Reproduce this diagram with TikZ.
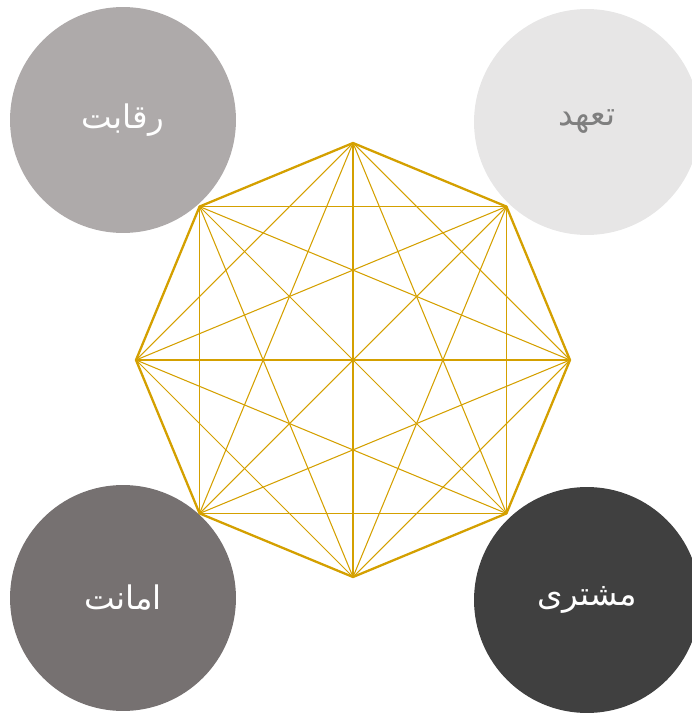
\documentclass[tikz,border=0pt]{standalone}
\usepackage{fontspec}
\usetikzlibrary{positioning}
\TeXXeTstate=1
\newfontfamily\arabicfont[Script=Arabic]{DejaVu Sans}
\definecolor{gold}{HTML}{D4A000}
\definecolor{greylight}{HTML}{E7E6E6}
\definecolor{greymid}{HTML}{AEAAAA}
\definecolor{greydark}{HTML}{767171}
\definecolor{greydeep}{HTML}{404040}
\definecolor{greytext}{HTML}{7F7F7F}

\begin{document}
\begin{tikzpicture}[
    x=0.02cm, y=-0.02cm,
    value/.style={circle, minimum size=4.52cm, inner sep=0pt,
        font=\arabicfont\fontsize{18.5}{20}\selectfont, text=white},
    rim/.style={draw=gold, line width=1.3pt, line join=round},
    chord/.style={draw=gold, line width=0.6pt}
]
\useasboundingbox (0,0) rectangle (692,713);

% =====================================================
% VALUE CIRCLES (CORNERS)
% =====================================================
\node[value, fill=greymid]   (rivalry)  at (123,120) {\beginR رقابت\endR};
\node[value, fill=greylight, text=greytext] (commit) at (587,122) {\beginR تعهد\endR};
\node[value, fill=greydark]  (trust)    at (123,598) {\beginR امانت\endR};
\node[value, fill=greydeep]  (customer) at (587,600) {\beginR مشتری\endR};

% =====================================================
% OCTAGON WITH ALL DIAGONALS
% =====================================================
\begin{scope}[shift={(353,360)}]
  \foreach \i in {0,...,7}
    \coordinate (v\i) at (90+\i*45:217);
\end{scope}

% diagonals between every pair of corners
\foreach \i in {0,...,6}{
  \pgfmathtruncatemacro{\next}{\i+1}
  \foreach \j in {\next,...,7}
    \draw[chord] (v\i) -- (v\j);
}

% outer rim
\draw[rim] (v0) -- (v1) -- (v2) -- (v3) -- (v4) -- (v5) -- (v6) -- (v7) -- cycle;

\end{tikzpicture}
\end{document}
